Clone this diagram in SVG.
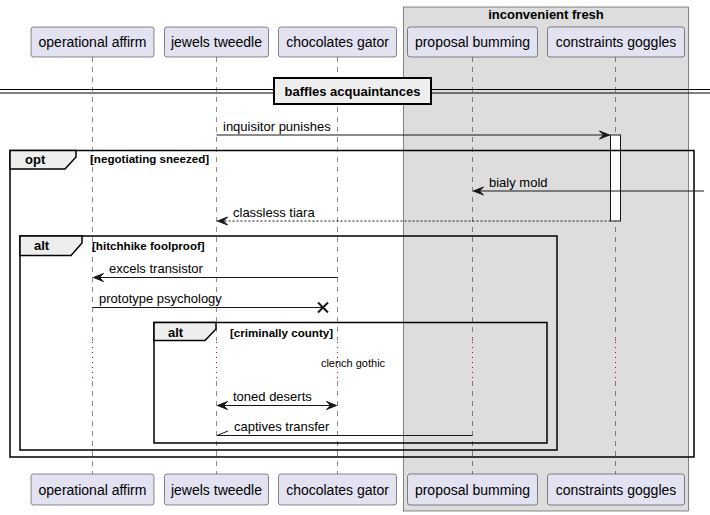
<svg xmlns="http://www.w3.org/2000/svg" width="710" height="515" viewBox="0 0 710 515">
<style>
.pbox{fill:#E2E2F0;stroke:#181818;stroke-width:0.5}
.ptxt{font-family:"Liberation Sans",Arial,sans-serif;font-size:14px;fill:#000;text-anchor:middle}
.life{stroke:#181818;stroke-width:0.5;stroke-dasharray:5,5;fill:none}
.delay{stroke:#A80036;stroke-width:1;stroke-dasharray:1,4;fill:none}
.frame{fill:none;stroke:#000;stroke-width:1.5}
.tab{fill:#EEEEEE;stroke:#000;stroke-width:1.5}
.ftitle{font-family:"Liberation Sans",Arial,sans-serif;font-size:13px;font-weight:bold;fill:#000}
.fcond{font-family:"Liberation Sans",Arial,sans-serif;font-size:11.6px;font-weight:bold;fill:#000}
.msg{stroke:#181818;stroke-width:1;fill:none}
.mtxt{font-family:"Liberation Sans",Arial,sans-serif;font-size:13px;fill:#000}
</style>
<defs>
<marker id="arr" viewBox="0 0 12 10" refX="11" refY="5" markerWidth="12" markerHeight="10" markerUnits="userSpaceOnUse" orient="auto-start-reverse">
<path d="M1,1 L11,5 L1,9 L5,5 Z" fill="#181818" stroke="#181818" stroke-width="1"/>
</marker>
</defs>
<rect width="710" height="515" fill="#FFFFFF"/>
<g id="box-inconvenient-fresh">
<rect x="403.5" y="7" width="285" height="504" fill="#DDDDDD" stroke="#181818" stroke-width="0.5"/>
<text x="546" y="19" class="ftitle" text-anchor="middle">inconvenient fresh</text>
</g>
<g id="lifelines">
<path class="life" d="M92.5,57 V341 M92.5,381 V474 M216.5,57 V341 M216.5,381 V474 M337.5,57 V341 M337.5,381 V474 M472.5,57 V341 M472.5,381 V474 M615.5,57 V341 M615.5,381 V474"/>
<path class="delay" d="M92.5,342 V381 M216.5,342 V381 M337.5,342 V381 M472.5,342 V381 M615.5,342 V381"/>
</g>
<g id="divider">
<line x1="0" y1="89.5" x2="710" y2="89.5" stroke="#000" stroke-width="1"/>
<line x1="0" y1="93" x2="710" y2="93" stroke="#000" stroke-width="1"/>
<rect x="274" y="78" width="157" height="26" fill="#EEEEEE" stroke="#000" stroke-width="2"/>
<text x="352.5" y="96" class="ftitle" text-anchor="middle">baffles acquaintances</text>
</g>
<g id="p-operational-affirm">
<rect class="pbox" x="31" y="27" width="123" height="30" rx="2.5"/>
<text class="ptxt" x="92.5" y="47">operational affirm</text>
<rect class="pbox" x="31" y="474" width="123" height="31" rx="2.5"/>
<text class="ptxt" x="92.5" y="495">operational affirm</text>
</g>
<g id="p-jewels-tweedle">
<rect class="pbox" x="164.5" y="27" width="104" height="30" rx="2.5"/>
<text class="ptxt" x="216.5" y="47">jewels tweedle</text>
<rect class="pbox" x="164.5" y="474" width="104" height="31" rx="2.5"/>
<text class="ptxt" x="216.5" y="495">jewels tweedle</text>
</g>
<g id="p-chocolates-gator">
<rect class="pbox" x="278.5" y="27" width="118" height="30" rx="2.5"/>
<text class="ptxt" x="337.5" y="47">chocolates gator</text>
<rect class="pbox" x="278.5" y="474" width="118" height="31" rx="2.5"/>
<text class="ptxt" x="337.5" y="495">chocolates gator</text>
</g>
<g id="p-proposal-bumming">
<rect class="pbox" x="407.5" y="27" width="130" height="30" rx="2.5"/>
<text class="ptxt" x="472.5" y="47">proposal bumming</text>
<rect class="pbox" x="407.5" y="474" width="130" height="31" rx="2.5"/>
<text class="ptxt" x="472.5" y="495">proposal bumming</text>
</g>
<g id="p-constraints-goggles">
<rect class="pbox" x="547.5" y="27" width="137" height="30" rx="2.5"/>
<text class="ptxt" x="616" y="47">constraints goggles</text>
<rect class="pbox" x="547.5" y="474" width="137" height="31" rx="2.5"/>
<text class="ptxt" x="616" y="495">constraints goggles</text>
</g>
<g id="activation">
<rect x="610.5" y="135" width="10" height="86" fill="#FFFFFF" stroke="#181818" stroke-width="1"/>
</g>
<g id="frame-opt">
<rect class="frame" x="10" y="150.5" width="684" height="306.5"/>
<path class="tab" d="M10,150.5 L76,150.5 L76,157 L65,169 L10,169 Z"/>
<text class="ftitle" x="25" y="164">opt</text>
<text class="fcond" x="90" y="163">[negotiating sneezed]</text>
</g>
<g id="frame-alt-1">
<rect class="frame" x="20" y="236" width="537" height="214"/>
<path class="tab" d="M20,236 L82,236 L82,243 L71,255.5 L20,255.5 Z"/>
<text class="ftitle" x="34" y="250">alt</text>
<text class="fcond" x="92" y="250">[hitchhike foolproof]</text>
</g>
<g id="frame-alt-2">
<rect class="frame" x="154" y="322.5" width="393" height="120.5"/>
<path class="tab" d="M154,322.5 L216,322.5 L216,329 L205,340.5 L154,340.5 Z"/>
<text class="ftitle" x="168" y="337">alt</text>
<text class="fcond" x="230" y="337">[criminally county]</text>
</g>
<g id="delay-text">
<text x="353" y="367" font-family="'Liberation Sans',Arial,sans-serif" font-size="11px" fill="#000" text-anchor="middle">clench gothic</text>
</g>
<g id="connectors">
<line class="msg" x1="216.5" y1="135" x2="609.5" y2="135" marker-end="url(#arr)"/>
<text class="mtxt" x="223" y="131">inquisitor punishes</text>
<line class="msg" x1="704" y1="191" x2="473.5" y2="191" marker-end="url(#arr)"/>
<text class="mtxt" x="489" y="187">bialy mold</text>
<line class="msg" x1="610.5" y1="221" x2="217.5" y2="221" stroke-dasharray="2,2" marker-end="url(#arr)"/>
<text class="mtxt" x="233" y="217">classless tiara</text>
<line class="msg" x1="337.5" y1="277.5" x2="93.5" y2="277.5" marker-end="url(#arr)"/>
<text class="mtxt" x="109" y="273">excels transistor</text>
<line class="msg" x1="92.5" y1="307.5" x2="323" y2="307.5"/>
<path d="M318,302.5 L328,312.5 M328,302.5 L318,312.5" stroke="#181818" stroke-width="2" fill="none"/>
<text class="mtxt" x="99" y="303">prototype psychology</text>
<line class="msg" x1="217.5" y1="405.5" x2="336.5" y2="405.5" marker-start="url(#arr)" marker-end="url(#arr)"/>
<text class="mtxt" x="233" y="401">toned deserts</text>
<line class="msg" x1="472.5" y1="435.5" x2="217" y2="435.5"/>
<line class="msg" x1="217" y1="435.5" x2="228" y2="431"/>
<text class="mtxt" x="234" y="431">captives transfer</text>
</g>
</svg>
